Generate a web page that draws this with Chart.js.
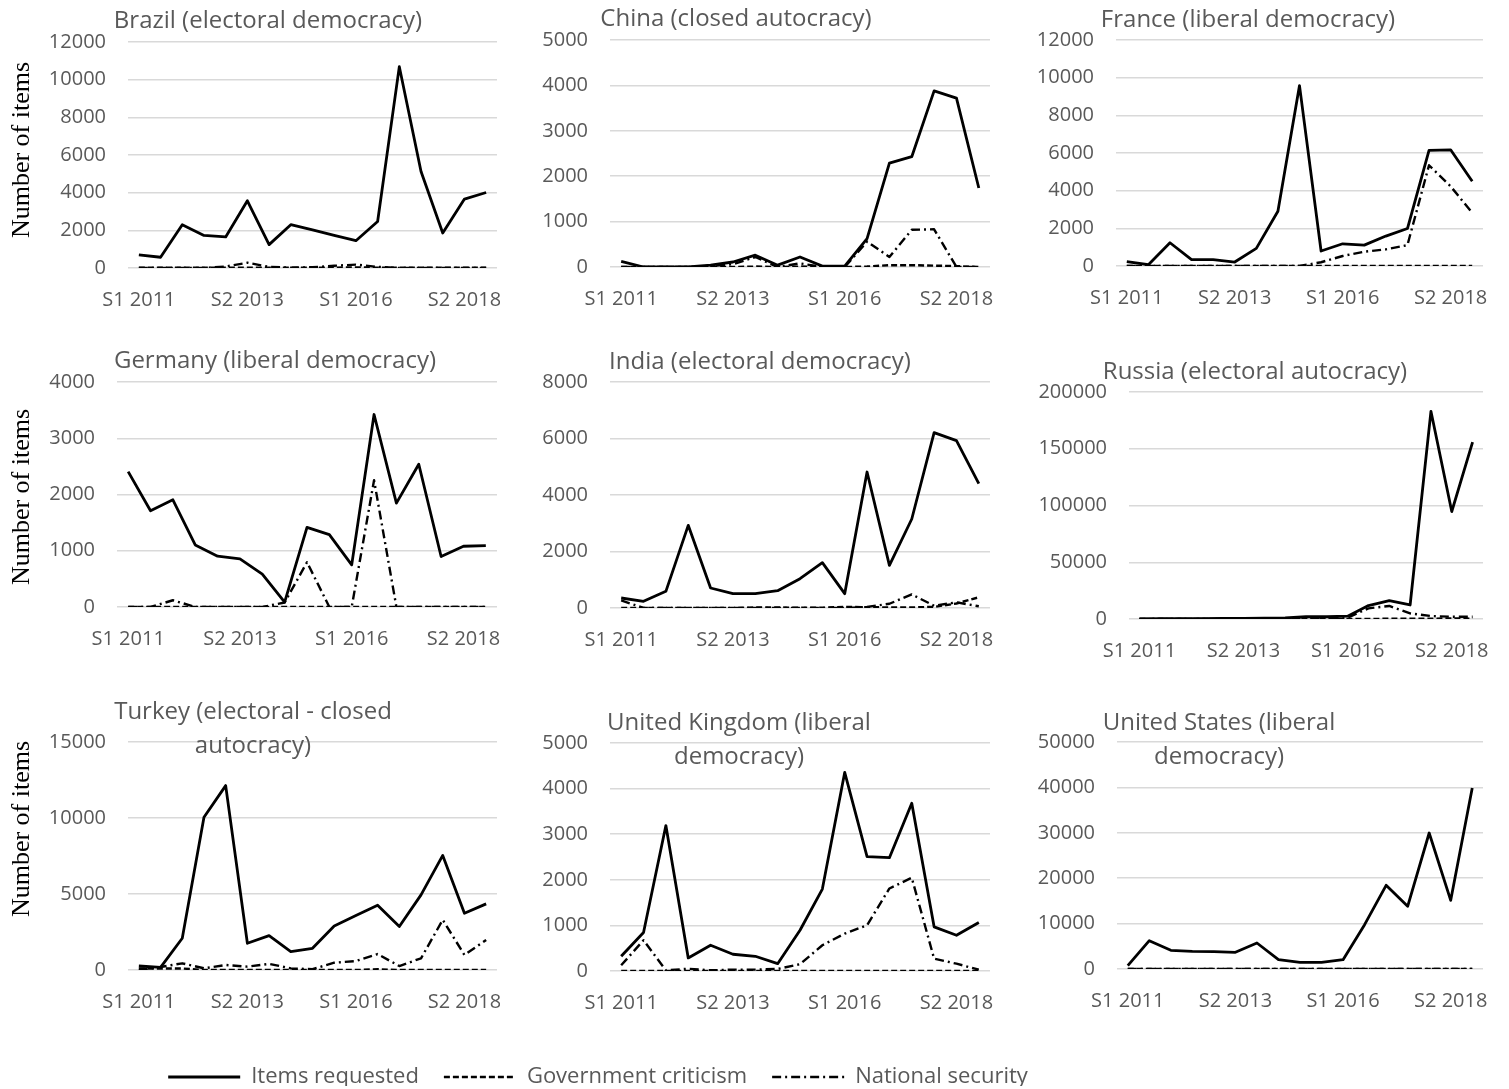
<!DOCTYPE html>
<html>
<head>
<meta charset="utf-8">
<script src="https://cdn.jsdelivr.net/npm/chart.js@4.4.1/dist/chart.umd.min.js"></script>
<style>
  body { margin: 0; background: #fff; }
  #page { position: relative; width: 1509px; height: 1089px; overflow: hidden; }
  #page canvas { position: absolute; }
</style>
</head>
<body>
<div id="page"></div>
<script>
// half-year periods, S1 2011 .. S1 2019
const periods = ['S1 2011', 'S2 2011', 'S1 2012', 'S2 2012', 'S1 2013', 'S2 2013', 'S1 2014', 'S2 2014',
    'S1 2015', 'S2 2015', 'S1 2016', 'S2 2016', 'S1 2017', 'S2 2017', 'S1 2018', 'S2 2018', 'S1 2019'];

const seriesNames = ['Items requested', 'Government criticism', 'National security'];

const titles = [
    ['Brazil (electoral democracy)'],
    ['China (closed autocracy)'],
    ['France (liberal democracy)'],
    ['Germany (liberal democracy)'],
    ['India (electoral democracy)'],
    ['Russia (electoral autocracy)'],
    ['Turkey (electoral - closed', 'autocracy)'],
    ['United Kingdom (liberal', 'democracy)'],
    ['United States (liberal', 'democracy)']
];

const yMax = [12000, 5000, 12000, 4000, 8000, 200000, 15000, 5000, 50000];
const yStep = [2000, 1000, 2000, 1000, 2000, 50000, 5000, 1000, 10000];

const brazilItems = [700, 570, 2300, 1730, 1650, 3570, 1240, 2300, 2020, 1730, 1450, 2470, 10690, 5120, 1860, 3660, 4010];
const brazilCriticism = [10, 10, 10, 10, 20, 20, 10, 10, 10, 20, 30, 20, 10, 10, 10, 10, 10];
const brazilSecurity = [0, 0, 0, 0, 80, 280, 60, 20, 40, 120, 180, 60, 0, 0, 0, 0, 0];

const chinaItems = [125, 0, 0, 0, 40, 110, 260, 40, 220, 20, 20, 625, 2290, 2430, 3880, 3720, 1740];
const chinaCriticism = [0, 0, 0, 0, 0, 0, 10, 0, 10, 0, 0, 10, 40, 40, 30, 20, 0];
const chinaSecurity = [0, 0, 0, 0, 20, 60, 220, 0, 80, 0, 0, 560, 220, 820, 830, 0, 0];

const franceItems = [230, 70, 1235, 335, 335, 210, 935, 2910, 9580, 795, 1180, 1110, 1590, 1990, 6140, 6170, 4500];
const franceCriticism = [0, 0, 0, 0, 0, 0, 0, 0, 0, 0, 0, 0, 0, 0, 0, 0, 0];
const franceSecurity = [0, 0, 0, 0, 0, 0, 0, 0, 0, 200, 530, 760, 880, 1110, 5350, 4230, 2820];

const germanyItems = [2407, 1711, 1906, 1103, 903, 855, 584, 88, 1416, 1286, 749, 3422, 1847, 2537, 897, 1080, 1091];
const germanyCriticism = [0, 0, 0, 0, 0, 0, 0, 0, 0, 0, 0, 0, 0, 0, 0, 0, 0];
const germanySecurity = [0, 0, 120, 0, 0, 0, 0, 80, 796, 0, 0, 2254, 0, 0, 0, 0, 0];

const indiaItems = [354, 236, 590, 2926, 708, 507, 507, 614, 1038, 1605, 507, 4814, 1510, 3150, 6207, 5923, 4401];
const indiaCriticism = [0, 0, 0, 0, 0, 0, 20, 20, 10, 10, 40, 30, 20, 20, 40, 160, 380];
const indiaSecurity = [270, 0, 0, 0, 0, 0, 0, 0, 0, 0, 0, 40, 150, 480, 80, 200, 60];

const russiaItems = [100, 200, 300, 400, 500, 600, 800, 1000, 2000, 2000, 2500, 11800, 16200, 12350, 183000, 94700, 155900];
const russiaCriticism = [0, 0, 0, 0, 0, 0, 0, 0, 0, 0, 0, 100, 200, 200, 300, 500, 300];
const russiaSecurity = [0, 0, 0, 0, 0, 0, 100, 200, 500, 800, 1200, 9400, 11500, 5000, 2600, 2000, 2000];

const turkeyItems = [264, 176, 2088, 10044, 12132, 1758, 2264, 1209, 1429, 2901, 3582, 4264, 2857, 4945, 7538, 3736, 4352];
const turkeyCriticism = [100, 100, 100, 0, 0, 0, 0, 0, 0, 0, 0, 50, 0, 0, 0, 0, 0];
const turkeySecurity = [0, 200, 440, 110, 330, 220, 400, 110, 50, 480, 590, 1050, 260, 770, 3300, 990, 1980];

const ukItems = [323, 843, 3189, 286, 565, 367, 323, 161, 894, 1796, 4355, 2507, 2485, 3680, 968, 784, 1063];
const ukCriticism = [0, 0, 0, 0, 0, 0, 0, 0, 0, 0, 0, 0, 0, 0, 0, 0, 0];
const ukSecurity = [125, 675, 15, 50, 15, 30, 30, 45, 150, 565, 820, 1004, 1810, 2045, 270, 160, 30];

const usItems = [734, 6240, 4110, 3890, 3820, 3670, 5730, 2060, 1470, 1470, 2060, 9770, 18430, 13800, 29960, 15120, 39870];
const usCriticism = [0, 0, 0, 0, 0, 0, 0, 0, 0, 0, 0, 0, 0, 0, 0, 0, 0];
const usSecurity = [0, 0, 0, 0, 0, 0, 0, 0, 0, 0, 0, 0, 0, 0, 0, 0, 0];

const series = [
    [brazilItems, brazilCriticism, brazilSecurity],
    [chinaItems, chinaCriticism, chinaSecurity],
    [franceItems, franceCriticism, franceSecurity],
    [germanyItems, germanyCriticism, germanySecurity],
    [indiaItems, indiaCriticism, indiaSecurity],
    [russiaItems, russiaCriticism, russiaSecurity],
    [turkeyItems, turkeyCriticism, turkeySecurity],
    [ukItems, ukCriticism, ukSecurity],
    [usItems, usCriticism, usSecurity]
];

// page layout
const colLeft = [0, 500, 1000], colWidth = [500, 500, 509];
const rowTop = [0, 325, 680], rowHeight = [320, 340, 345];
// plot area per panel: left, right, top, bottom (page px)
const areas = [
    [128, 497, 42, 268], [610, 990, 40, 267], [1116, 1483, 40, 266],
    [117, 497, 382, 607], [610, 990, 382, 608], [1129, 1483, 392, 619],
    [128, 497, 742, 970], [610, 990, 743, 971], [1117, 1483, 742, 969]
];
// title line centres (page px)
const titleSpots = [
    [[268, 21]], [[736, 19]], [[1248, 20]],
    [[275, 361]], [[760, 362]], [[1255, 372]],
    [[253, 712], [253, 746]], [[739, 723], [739, 757]], [[1219, 723], [1219, 757]]
];
const yTitleY = [150, 497, 829];

const grey = '#595959';
const lineStyles = [
    { borderWidth: 2.8, borderDash: [] },
    { borderWidth: 2.4, borderDash: [6, 3] },
    { borderWidth: 2.4, borderDash: [9, 4, 2, 4] }
];

const textPlugin = {
    id: 'panelText',
    afterDraw(chart, args, opts) {
        const ctx = chart.ctx;
        (opts.items || []).forEach(function(it) {
            ctx.save();
            ctx.font = it.font;
            ctx.fillStyle = it.color;
            ctx.textAlign = 'center';
            ctx.textBaseline = 'middle';
            ctx.translate(it.x, it.y);
            if (it.rotate) ctx.rotate(it.rotate);
            ctx.fillText(it.text, 0, 0);
            ctx.restore();
        });
    }
};

const page = document.getElementById('page');

function addCanvas(left, top, width, height) {
    const c = document.createElement('canvas');
    c.width = width;
    c.height = height;
    c.style.left = left + 'px';
    c.style.top = top + 'px';
    c.style.width = width + 'px';
    c.style.height = height + 'px';
    page.appendChild(c);
    return c;
}

function makeDatasets(values) {
    return seriesNames.map(function(name, k) {
        return {
            label: name,
            data: values ? values[k] : [],
            borderColor: '#000',
            backgroundColor: '#000',
            borderWidth: lineStyles[k].borderWidth,
            borderDash: lineStyles[k].borderDash,
            borderJoinStyle: 'round',
            pointRadius: 0,
            tension: 0,
            fill: false
        };
    });
}

function makePanel(i) {
    const col = i % 3, row = Math.floor(i / 3);
    const left = colLeft[col], top = rowTop[row], width = colWidth[col], height = rowHeight[row];
    const a = areas[i];
    const canvas = addCanvas(left, top, width, height);

    const texts = titleSpots[i].map(function(p, k) {
        return { text: titles[i][k], x: p[0] - left, y: p[1] - top, font: '24px "Open Sans"', color: grey };
    });
    if (col === 0) {
        texts.push({ text: 'Number of items', x: 22, y: yTitleY[row] - top,
            font: '26px "Liberation Serif"', color: '#000', rotate: -Math.PI / 2 });
    }

    new Chart(canvas, {
        type: 'line',
        data: { labels: periods, datasets: makeDatasets(series[i]) },
        options: {
            responsive: false,
            animation: false,
            devicePixelRatio: 1,
            layout: { padding: { top: a[2] - top, right: left + width - a[1], left: 0, bottom: 0 } },
            plugins: {
                legend: { display: false },
                tooltip: { enabled: false },
                panelText: { items: texts }
            },
            scales: {
                x: {
                    offset: true,
                    grid: { display: false },
                    border: { display: false },
                    ticks: {
                        autoSkip: false, maxRotation: 0, minRotation: 0, padding: 12,
                        color: grey, font: { family: 'Open Sans', size: 20 },
                        callback: function(v, idx) { return idx % 5 === 0 ? periods[idx] : ''; }
                    },
                    afterFit: function(s) { s.height = top + height - a[3]; }
                },
                y: {
                    min: 0, max: yMax[i],
                    grid: { color: '#d9d9d9', lineWidth: 1.5, drawTicks: false },
                    border: { display: false },
                    ticks: {
                        stepSize: yStep[i], padding: 22,
                        color: grey, font: { family: 'Open Sans', size: 20 },
                        callback: function(v) { return String(v); }
                    },
                    afterFit: function(s) { s.width = a[0] - left; }
                }
            }
        },
        plugins: [textPlugin]
    });
}

document.addEventListener('DOMContentLoaded', function() {
    for (let i = 0; i < 9; i++) makePanel(i);

    // shared legend (labels.padding also sets the gap above the row)
    const lc = addCanvas(0, 1041, 1196, 90);
    new Chart(lc, {
        type: 'line',
        data: { labels: [], datasets: makeDatasets(null) },
        options: {
            responsive: false,
            animation: false,
            devicePixelRatio: 1,
            layout: { padding: 0 },
            scales: { x: { display: false }, y: { display: false } },
            plugins: {
                tooltip: { enabled: false },
                legend: {
                    display: true,
                    position: 'top',
                    labels: {
                        usePointStyle: true, pointStyle: 'line', pointStyleWidth: 72,
                        padding: 25, color: grey, font: { family: 'Open Sans', size: 22 },
                        generateLabels: function(chart) {
                            const items = Chart.defaults.plugins.legend.labels.generateLabels(chart);
                            items.forEach(function(it, k) {
                                it.lineDash = lineStyles[k].borderDash;
                                it.lineWidth = lineStyles[k].borderWidth;
                                it.strokeStyle = '#000';
                                it.pointStyle = 'line';
                            });
                            return items;
                        }
                    }
                }
            }
        }
    });
});
</script>
</body>
</html>
